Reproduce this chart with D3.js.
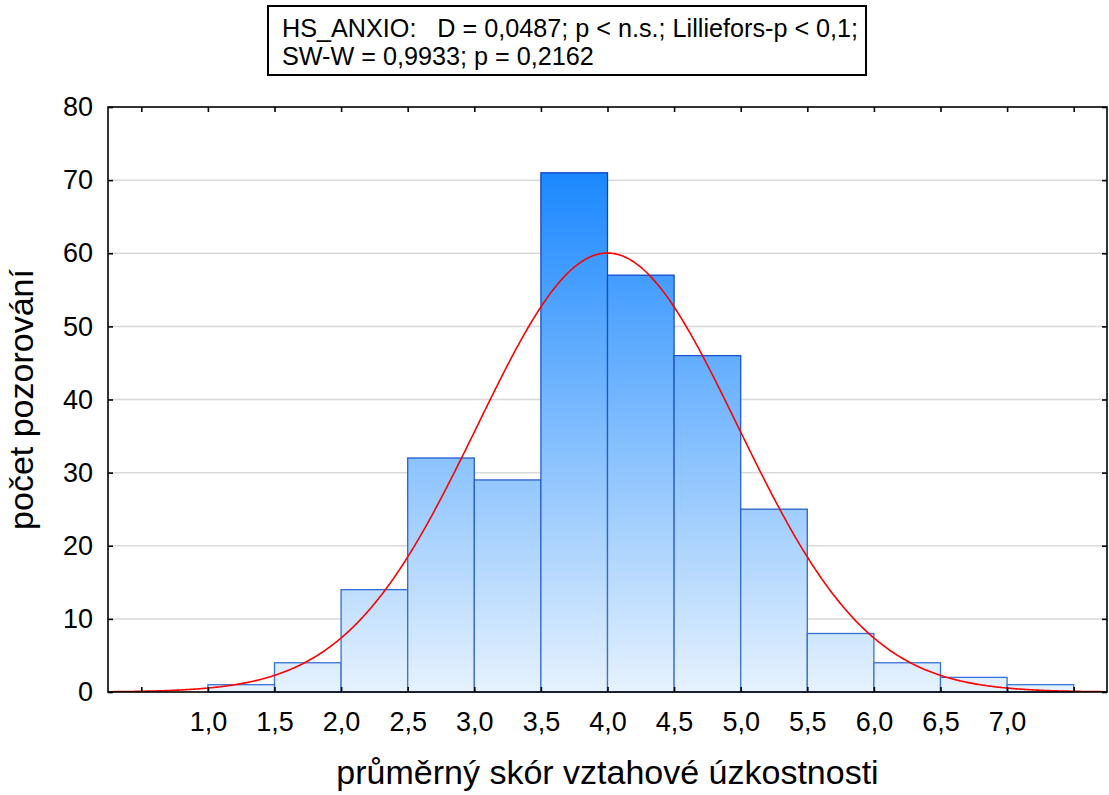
<!DOCTYPE html>
<html>
<head>
<meta charset="utf-8">
<script src="https://cdn.jsdelivr.net/npm/d3@7"></script>
<style>
  html, body { margin: 0; padding: 0; background: #fff; }
  svg { display: block; font-family: "Liberation Sans", Arial, sans-serif; }
</style>
</head>
<body>
<svg id="chart" width="1109" height="795"></svg>
<script>
// ---- data ----
const binStarts = [1.0, 1.5, 2.0, 2.5, 3.0, 3.5, 4.0, 4.5, 5.0, 5.5, 6.0, 6.5, 7.0];
const binWidth = 0.5;
const counts = [1, 4, 14, 32, 29, 71, 57, 46, 25, 8, 4, 2, 1];
const xTickValues = [1.0, 1.5, 2.0, 2.5, 3.0, 3.5, 4.0, 4.5, 5.0, 5.5, 6.0, 6.5, 7.0];
const xMinorTicks = [0.5, 7.5];
const yTickValues = [0, 10, 20, 30, 40, 50, 60, 70, 80];
const normalMean = 4.0;
const normalSD = 0.977;
const titleLines = ["HS_ANXIO:   D = 0,0487; p < n.s.; Lilliefors-p < 0,1;", "SW-W = 0,9933; p = 0,2162"];
const xTitle = "průměrný skór vztahové úzkostnosti";
const yTitle = "počet pozorování";

// ---- layout ----
const svg = d3.select("#chart");
const L = 108, R = 1107, T = 107, B = 692;
const x = d3.scaleLinear().domain([0.25, 7.75]).range([L, R]);
const y = d3.scaleLinear().domain([0, 80]).range([B, T]);

const defs = svg.append("defs");
const grad = defs.append("linearGradient").attr("id", "barFill")
  .attr("gradientUnits", "userSpaceOnUse")
  .attr("x1", 0).attr("x2", 0).attr("y1", y(0)).attr("y2", y(71));
grad.append("stop").attr("offset", 0).attr("stop-color", "#e6f2fe");
grad.append("stop").attr("offset", 1).attr("stop-color", "#1b88ff");
const sgrad = defs.append("linearGradient").attr("id", "barStroke")
  .attr("gradientUnits", "userSpaceOnUse")
  .attr("x1", 0).attr("x2", 0).attr("y1", y(0)).attr("y2", y(71));
sgrad.append("stop").attr("offset", 0).attr("stop-color", "#3a74d8");
sgrad.append("stop").attr("offset", 1).attr("stop-color", "#0840c4");
defs.append("clipPath").attr("id", "plotClip").append("rect")
  .attr("x", L).attr("y", T).attr("width", R - L).attr("height", B - T);

// gridlines
svg.append("g").selectAll("line").data(yTickValues.filter(v => v > 0 && v < 80)).join("line")
  .attr("x1", L).attr("x2", R).attr("y1", d => y(d)).attr("y2", d => y(d))
  .attr("stroke", "#d9d9d9").attr("stroke-width", 1.5);

// bars
const bins = binStarts.map((s, i) => ({ x0: s, x1: s + binWidth, n: counts[i] }));
svg.append("g").selectAll("rect").data(bins).join("rect")
  .attr("x", d => x(d.x0)).attr("width", d => x(d.x1) - x(d.x0))
  .attr("y", d => y(d.n)).attr("height", d => y(0) - y(d.n))
  .attr("fill", "url(#barFill)").attr("stroke", "url(#barStroke)").attr("stroke-width", 1.3);

// normal curve
const N = d3.sum(counts);
const pts = d3.range(0.25, 7.7501, 0.01).map(v => [v,
  N * binWidth / (normalSD * Math.sqrt(2 * Math.PI)) * Math.exp(-0.5 * ((v - normalMean) / normalSD) ** 2)]);
svg.append("path").datum(pts)
  .attr("clip-path", "url(#plotClip)")
  .attr("d", d3.line().x(d => x(d[0])).y(d => y(d[1])))
  .attr("fill", "none").attr("stroke", "#ff0000").attr("stroke-width", 1.6);

// frame
svg.append("rect").attr("x", L).attr("y", T).attr("width", R - L).attr("height", B - T)
  .attr("fill", "none").attr("stroke", "#000").attr("stroke-width", 1.6);

// axes (inward ticks)
const allX = xTickValues.concat(xMinorTicks);
const fmt = v => d3.format(".1f")(v).replace(".", ",");
const xb = svg.append("g").attr("transform", `translate(0,${B})`)
  .call(d3.axisBottom(x).tickValues(allX).tickSizeInner(-5).tickSizeOuter(0).tickPadding(20)
    .tickFormat(v => xTickValues.includes(v) ? fmt(v) : ""));
const xt = svg.append("g").attr("transform", `translate(0,${T})`)
  .call(d3.axisTop(x).tickValues(allX).tickSizeInner(-5).tickSizeOuter(0).tickFormat(""));
const yl = svg.append("g").attr("transform", `translate(${L},0)`)
  .call(d3.axisLeft(y).tickValues(yTickValues).tickSizeInner(-5).tickSizeOuter(0).tickPadding(15));
const yr = svg.append("g").attr("transform", `translate(${R},0)`)
  .call(d3.axisRight(y).tickValues(yTickValues).tickSizeInner(-5).tickSizeOuter(0).tickFormat(""));
[xb, xt, yl, yr].forEach(g => {
  g.select(".domain").remove();
  g.selectAll(".tick line").attr("stroke", "#000").attr("stroke-width", 1.6);
  g.selectAll("text").attr("fill", "#000").style("font-size", "27px")
    .style("font-family", "'Liberation Sans', Arial, sans-serif");
});

// axis titles
svg.append("text").attr("x", x(4.0)).attr("y", 784).attr("text-anchor", "middle")
  .style("font-size", "34px").text(xTitle);
svg.append("text").attr("transform", `translate(33,${(T + B) / 2}) rotate(-90)`)
  .attr("text-anchor", "middle").style("font-size", "34px").text(yTitle);

// title box
svg.append("rect").attr("x", 268).attr("y", 6).attr("width", 598).attr("height", 69)
  .attr("fill", "#fff").attr("stroke", "#000").attr("stroke-width", 2);
svg.append("g").selectAll("text").data(titleLines).join("text")
  .attr("x", 282).attr("y", (d, i) => 37 + i * 28)
  .style("font-size", "25.2px").style("white-space", "pre").attr("xml:space", "preserve").text(d => d);
</script>
</body>
</html>
